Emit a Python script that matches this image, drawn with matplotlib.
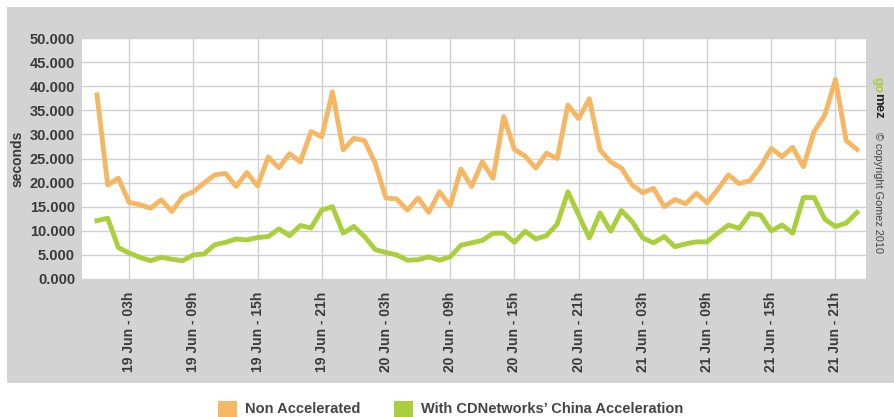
import numpy as np
import matplotlib
matplotlib.use("Agg")
import matplotlib.pyplot as plt
from matplotlib.patches import Rectangle

# hourly response times, 19 Jun 00h .. 21 Jun 23h
non_accel = [38.2, 19.5, 20.9, 15.9, 15.4, 14.7, 16.4, 14.0, 17.1, 18.1, 19.9, 21.6,
             21.9, 19.2, 22.1, 19.3, 25.3, 23.1, 26.0, 24.3, 30.6, 29.5, 38.8, 26.8,
             29.2, 28.7, 24.0, 16.8, 16.6, 14.3, 16.8, 13.8, 18.1, 15.2, 22.8, 19.2,
             24.3, 20.9, 33.7, 26.9, 25.5, 23.0, 26.1, 25.0, 36.1, 33.3, 37.4, 26.8,
             24.3, 23.0, 19.5, 17.9, 18.8, 15.0, 16.5, 15.6, 17.8, 15.8, 18.6, 21.6,
             19.8, 20.4, 23.3, 27.1, 25.4, 27.3, 23.3, 30.6, 34.0, 41.4, 28.7, 26.9]
china_accel = [12.1, 12.6, 6.5, 5.4, 4.5, 3.8, 4.5, 4.1, 3.8, 5.0, 5.2, 7.1,
               7.6, 8.3, 8.1, 8.6, 8.8, 10.4, 9.0, 11.1, 10.6, 14.3, 15.0, 9.5,
               10.9, 8.8, 6.1, 5.5, 5.0, 3.9, 4.0, 4.6, 3.9, 4.6, 7.0, 7.5,
               8.0, 9.5, 9.5, 7.6, 9.9, 8.3, 9.0, 11.4, 18.1, 13.3, 8.5, 13.7,
               9.9, 14.2, 11.9, 8.5, 7.5, 8.8, 6.7, 7.3, 7.7, 7.7, 9.5, 11.2,
               10.5, 13.6, 13.3, 10.0, 11.2, 9.5, 16.9, 16.9, 12.4, 10.9, 11.6, 13.8]
tick_labels = ["19 Jun - 03h", "19 Jun - 09h", "19 Jun - 15h", "19 Jun - 21h",
               "20 Jun - 03h", "20 Jun - 09h", "20 Jun - 15h", "20 Jun - 21h",
               "21 Jun - 03h", "21 Jun - 09h", "21 Jun - 15h", "21 Jun - 21h"]
tick_hours = [3, 9, 15, 21, 27, 33, 39, 45, 51, 57, 63, 69]
y_ticks = [0, 5, 10, 15, 20, 25, 30, 35, 40, 45, 50]

orange = "#f5b764"
green = "#a9cf3c"
txt = "#3a3a3a"

plt.rcParams['font.family'] = ['Liberation Sans', 'DejaVu Sans']

W, H = 894, 417
fig = plt.figure(figsize=(W / 100, H / 100), dpi=100)
fig.patch.set_facecolor("white")

# grey frame behind the plot
fig.patches.append(Rectangle((7 / W, (H - 383) / H), 1, (383 - 7) / H,
                             transform=fig.transFigure, facecolor="#d3d3d3",
                             edgecolor="none", zorder=-10))

ax = fig.add_axes([82 / W, (H - 279) / H, 784 / W, 241 / H])
ax.set_facecolor("white")
hours = np.arange(len(non_accel))
ax.plot(hours, non_accel, color=orange, lw=3.5, solid_joinstyle="round", zorder=3)
ax.plot(hours, china_accel, color=green, lw=3.5, solid_joinstyle="round", zorder=3)

ax.set_xlim(-1.4, 71.85)
ax.set_ylim(0, 50)
ax.set_yticks(y_ticks)
ax.set_yticklabels(["%.3f" % v for v in y_ticks])
ax.set_xticks(tick_hours)
ax.set_xticklabels(tick_labels, rotation=90)
ax.tick_params(axis="x", length=0, pad=9, labelsize=10, labelcolor=txt)
ax.tick_params(axis="y", length=0, pad=5, labelsize=10.5, labelcolor=txt)
for lab in ax.get_xticklabels() + ax.get_yticklabels():
    lab.set_fontweight("bold")
ax.grid(True, color="#cfd0d4", lw=1)
ax.set_axisbelow(True)
for s in ax.spines.values():
    s.set_visible(False)

fig.text(18 / W, 1 - 159 / H, "seconds", rotation=90, ha="center", va="center",
         fontsize=10, fontweight="bold", color=txt)

# gomez mark on the right
fig.text(878 / W, 1 - 77 / H, "go", rotation=-90, ha="center", va="top",
         fontsize=9.5, fontweight="bold", color=green)
fig.text(878 / W, 1 - 93 / H, "mez", rotation=-90, ha="center", va="top",
         fontsize=9.5, fontweight="bold", color="#222222")
fig.text(878 / W, 1 - 132 / H, "\u00a9 copyright Gomez 2010", rotation=-90,
         ha="center", va="top", fontsize=7.8, color="#444444")

# legend
fig.patches.append(Rectangle((218 / W, 0), 19 / W, 16 / H, transform=fig.transFigure,
                             facecolor=orange, edgecolor="none"))
fig.text(245 / W, 1 - 409 / H, "Non Accelerated", ha="left", va="center",
         fontsize=10.5, fontweight="bold", color="#444444")
fig.patches.append(Rectangle((394 / W, 0), 19 / W, 16 / H, transform=fig.transFigure,
                             facecolor=green, edgecolor="none"))
fig.text(421 / W, 1 - 409 / H, "With CDNetworks\u2019 China Acceleration", ha="left",
         va="center", fontsize=10.5, fontweight="bold", color="#444444")

fig.savefig("out.png", dpi=100)
